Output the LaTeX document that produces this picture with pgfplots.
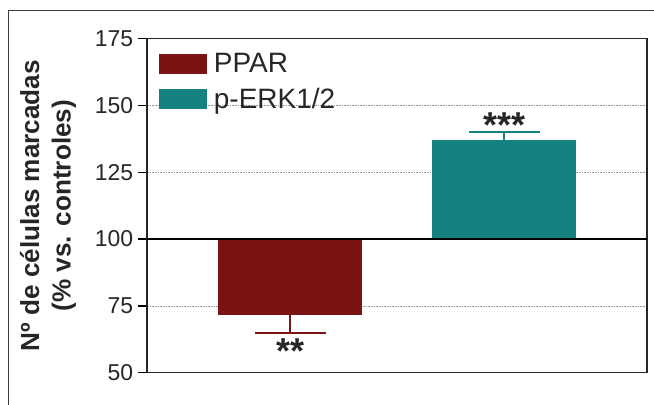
\documentclass[border=0pt]{standalone}
\usepackage{fontspec}
\setmainfont{Liberation Sans}
\usepackage{pgfplots}
\pgfplotsset{compat=1.18}

\definecolor{pparred}{RGB}{123,19,21}
\definecolor{erkteal}{RGB}{21,130,130}
\definecolor{framegray}{RGB}{60,60,60}

\begin{document}
\begin{tikzpicture}
  % page size and the surrounding frame
  \useasboundingbox (-110.25pt,-23.5pt) rectangle (380.25pt,279.5pt);
  \begin{scope}
    \clip (-110.25pt,-23.5pt) rectangle (380.25pt,279.5pt);
    \draw[framegray, line width=0.8pt] (-104pt,-60pt) rectangle (420pt,271.3pt);
  \end{scope}

  \begin{axis}[
    at={(0,0)}, anchor=south west,
    width=375pt, height=250.5pt, scale only axis,
    ybar,
    bar width=108pt,
    % bars grow from the 100 % control level
    y coord trafo/.code={\pgfmathparse{#1-100}},
    y coord inv trafo/.code={\pgfmathparse{#1+100}},
    xmin=-0.67, xmax=1.666,
    ymin=50, ymax=175,
    xtick=\empty,
    ytick={50,75,100,125,150,175},
    yticklabels={50,75,100,125,150,175},
    ytick pos=left,
    tick align=outside,
    major tick length=6.75pt,
    tick style={line width=1.1pt, black},
    axis line style={line width=1.1pt, black!85},
    /pgf/number format/assume math mode=true,
    yticklabel style={font=\fontsize{17.2}{20}\selectfont, inner sep=0pt, xshift=-3.5pt, text=black!85},
    ymajorgrids,
    major grid style={gray!80, line width=0.55pt, dash pattern=on 1.2pt off 0.8pt},
    ylabel={\bfseries Nº de células marcadas\\\bfseries (\% vs. controles)},
    ylabel style={font=\fontsize{19.6}{23.5}\selectfont, align=center,
      at={(axis description cs:-0.198,0.5)}, anchor=center, text=black!85},
    legend image code/.code={\fill[#1] (0pt,-7.5pt) rectangle (36pt,7.5pt);},
    legend style={draw=none, fill=none, at={(0,1)}, anchor=north west,
      xshift=8.5pt, yshift=-9pt, inner sep=0pt,
      font=\fontsize{21}{25}\selectfont, text=black!85,
      row sep=6pt, column sep=3.5pt},
    legend cell align=left,
  ]
    \addplot[fill=pparred, draw=none, bar shift=0pt,
      error bars/.cd, y dir=minus, y explicit, error mark=|,
      error bar style={pparred, line width=1.5pt},
      error mark options={pparred, line width=1.5pt, mark size=26.6pt}]
      coordinates {(0,71.5) -= (0,6.8)};
    \addlegendentry{PPAR}
    \addplot[fill=erkteal, draw=none, bar shift=0pt,
      error bars/.cd, y dir=plus, y explicit, error mark=|,
      error bar style={erkteal, line width=1.5pt},
      error mark options={erkteal, line width=1.5pt, mark size=26.6pt}]
      coordinates {(1,137.1) += (0,2.8)};
    \addlegendentry{p-ERK1/2}

    % control level
    \draw[black, line width=1.3pt] (axis cs:-0.67,100) -- (axis cs:1.666,100);

    % significance marks
    \node[anchor=base, yshift=-12.5pt, font=\fontsize{27}{30}\selectfont\bfseries, text=black!85]
      at (axis cs:0,59.7) {**};
    \node[anchor=base, yshift=-12.5pt, font=\fontsize{27}{30}\selectfont\bfseries, text=black!85]
      at (axis cs:1,144.1) {***};
  \end{axis}
\end{tikzpicture}
\end{document}
